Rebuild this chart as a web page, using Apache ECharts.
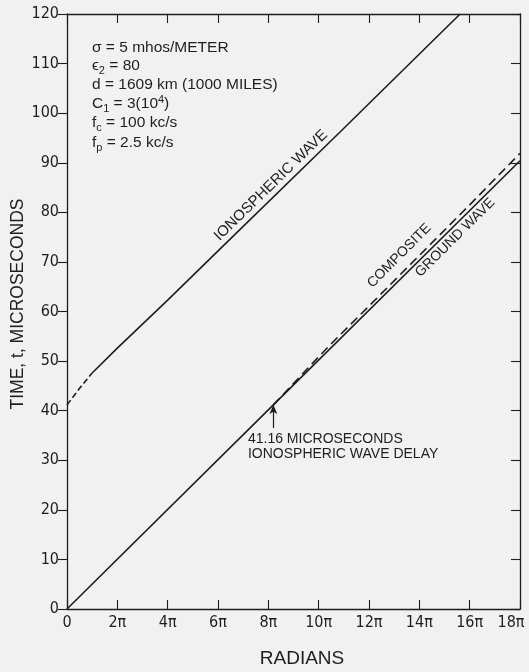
<!DOCTYPE html>
<html>
<head>
<meta charset="utf-8">
<script src="https://cdn.jsdelivr.net/npm/echarts@6/dist/echarts.min.js"></script>
<style>
  html, body { margin: 0; padding: 0; background: #f1f1f1; }
  #c { width: 529px; height: 672px; }
</style>
</head>
<body>
<div id="c"></div>
<script>
// Phase (in multiples of π radians) against time (microseconds)
const groundWave = [[0, 0], [8.2, 41.16], [18, 90.4]];
const ionoLead   = [[0, 41.16], [0.5, 44.5], [1.0, 47.6]];
const ionoWave   = [[1.0, 47.6], [2.0, 52.6], [4.0, 62.3], [6.4, 74.2], [10.85, 96.2], [15.62, 120]];
const composite  = [[8.2, 41.16], [8.8, 44.4], [9.5, 48.2], [10.5, 53.5], [12, 61.1], [14, 71.3], [16, 81.5], [18, 91.9]];
const delayValue = 41.16;

const xTickLabels = ['0', '2π', '4π', '6π', '8π', '10π', '12π', '14π', '16π', '18π'];
const yTickLabels = ['0', '10', '20', '30', '40', '50', '60', '70', '80', '90', '100', '110', '120'];

const ink = '#1e1e1e';
const font = '"Liberation Sans Narrow", "DejaVu Sans Condensed", "Liberation Sans", sans-serif';
const plainFont = '"Liberation Sans", "DejaVu Sans", sans-serif';

const chart = echarts.init(document.getElementById('c'), null, { renderer: 'canvas' });

const frameAxis = (pos, showLabels, isX) => ({
  type: 'value',
  position: pos,
  min: 0,
  max: isX ? 18 : 120,
  interval: isX ? 2 : 10,
  axisLine: { show: true, onZero: false, lineStyle: { color: ink, width: 1.3 } },
  axisTick: { show: true, inside: !(pos === 'left'), length: 9, lineStyle: { color: ink, width: 1.1 } },
  axisLabel: showLabels ? {
    show: true,
    color: ink,
    fontSize: 16,
    fontFamily: font,
    margin: isX ? 6 : 8,
    formatter: v => {
      if (!isX) return yTickLabels[Math.round(v / 10)];
      const i = Math.round(v / 2);
      // last label pulled in so it stays on the canvas
      return i === xTickLabels.length - 1 ? '{last|' + xTickLabels[i] + '}' : xTickLabels[i];
    },
    rich: { last: { fontSize: 16, fontFamily: font, color: ink, padding: [0, 18, 0, 0] } }
  } : { show: false },
  splitLine: { show: false }
});

const lineSeries = (data, dash) => ({
  type: 'line',
  xAxisIndex: 0,
  yAxisIndex: 0,
  data: data,
  symbol: 'none',
  silent: true,
  lineStyle: { color: ink, width: 1.6, type: dash || 'solid' }
});

const groundSeries = lineSeries(groundWave);
groundSeries.markLine = {
  silent: true,
  symbol: ['none', 'arrow'],
  symbolSize: [6, 9],
  label: { show: false },
  lineStyle: { color: ink, width: 1.2, type: 'solid' },
  data: [[{ coord: [8.2, 36.5] }, { coord: [8.2, delayValue] }]]
};

chart.setOption({
  backgroundColor: '#f1f1f1',
  animation: false,
  grid: { left: 67, right: 9, top: 14, bottom: 63, containLabel: false, outerBoundsMode: 'none' },
  xAxis: [frameAxis('bottom', true, true), frameAxis('top', false, true)],
  yAxis: [frameAxis('left', true, false), frameAxis('right', false, false)],
  series: [
    groundSeries,
    lineSeries(ionoLead, [6, 3]),
    lineSeries(ionoWave),
    lineSeries(composite, [9, 5])
  ]
});

// ---- annotations placed through the axes ----
const px = p => chart.convertToPixel({ xAxisIndex: 0, yAxisIndex: 0 }, p);

function lineLabel(series, xAt, dist, text, size) {
  // find the segment containing xAt and interpolate
  let i = 0;
  while (i < series.length - 2 && series[i + 1][0] < xAt) i++;
  const a = series[i], b = series[i + 1];
  const t = (xAt - a[0]) / (b[0] - a[0]);
  const p = px([xAt, a[1] + t * (b[1] - a[1])]);
  const pa = px(a), pb = px(b);
  const ang = Math.atan2(pa[1] - pb[1], pb[0] - pa[0]);
  const nx = -Math.sin(ang), ny = -Math.cos(ang);
  return {
    type: 'text',
    x: p[0] + nx * dist,
    y: p[1] + ny * dist,
    rotation: ang,
    silent: true,
    style: {
      text: text, fill: ink, fontSize: size, fontFamily: plainFont,
      align: 'center', verticalAlign: 'middle'
    }
  };
}

const paramRich = {
  sub: { fontSize: 11, fontFamily: plainFont, fill: ink, padding: [10, 0, 0, 0] },
  sup: { fontSize: 11, fontFamily: plainFont, fill: ink, padding: [0, 0, 9, 0] }
};
const paramLines = [
  'σ = 5 mhos/METER',
  'ϵ{sub|2} = 80',
  'd = 1609 km (1000 MILES)',
  'C{sub|1} = 3(10{sup|4})',
  'f{sub|c} = 100 kc/s',
  'f{sub|p} = 2.5 kc/s'
];
const paramY = [48, 66, 85, 104, 123, 143];

const graphics = [];
paramLines.forEach((s, k) => {
  graphics.push({
    type: 'text', x: 92, y: paramY[k], silent: true,
    style: { text: s, fill: ink, fontSize: 15.5, fontFamily: plainFont, verticalAlign: 'middle', rich: paramRich }
  });
});

graphics.push(lineLabel(ionoWave, 8.38, 10, 'IONOSPHERIC WAVE', 15));
graphics.push(lineLabel(composite, 13.6, 14, 'COMPOSITE', 14));
graphics.push(lineLabel(groundWave, 15.17, -9, 'GROUND WAVE', 14));

const note = px([7.19, 35.9]);
graphics.push({
  type: 'text', x: note[0], y: note[1], silent: true,
  style: {
    text: delayValue.toFixed(2) + ' MICROSECONDS\nIONOSPHERIC WAVE DELAY',
    fill: ink, fontSize: 14, fontFamily: plainFont, lineHeight: 15.5,
    align: 'left', verticalAlign: 'top'
  }
});

graphics.push({
  type: 'text', x: 18, y: 304, rotation: Math.PI / 2, silent: true,
  style: { text: 'TIME, t, MICROSECONDS', fill: ink, fontSize: 17.5, fontFamily: plainFont, align: 'center', verticalAlign: 'middle' }
});
graphics.push({
  type: 'text', x: 302, y: 659, silent: true,
  style: { text: 'RADIANS', fill: ink, fontSize: 19, fontFamily: plainFont, align: 'center', verticalAlign: 'middle' }
});

chart.setOption({ graphic: graphics });
</script>
</body>
</html>
